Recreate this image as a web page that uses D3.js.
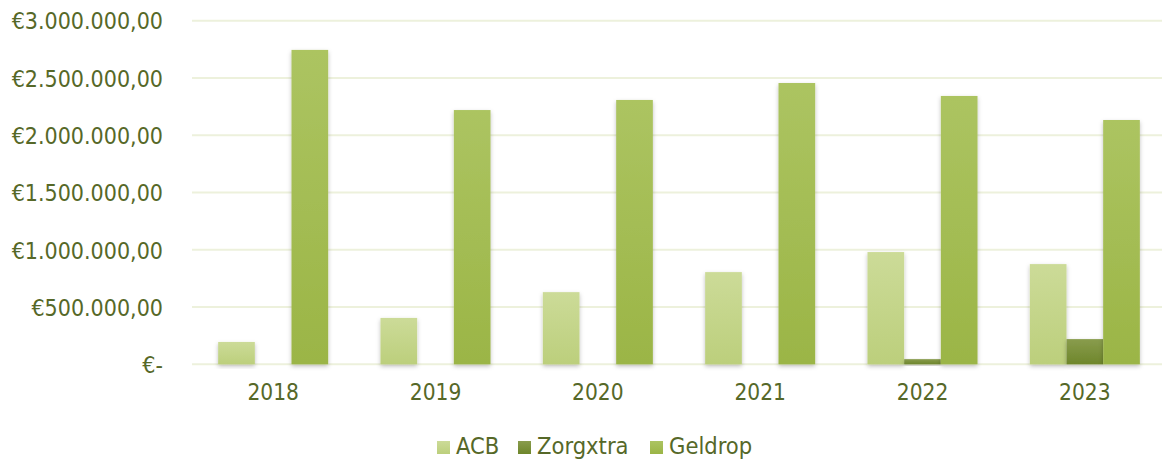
<!DOCTYPE html>
<html>
<head>
<meta charset="utf-8">
<script src="https://cdn.jsdelivr.net/npm/d3@7/dist/d3.min.js"></script>
<style>
  html, body { margin: 0; padding: 0; background: #fff; }
  svg { display: block; }
  text { font-family: "DejaVu Sans Condensed", "DejaVu Sans", sans-serif; fill: #566828; }
</style>
</head>
<body>
<svg id="chart" width="1162" height="461"></svg>
<script>
const years = ["2018", "2019", "2020", "2021", "2022", "2023"];
const seriesNames = ["ACB", "Zorgxtra", "Geldrop"];
const acb = [195000, 405000, 630000, 805000, 980000, 875000];
const zorgxtra = [0, 0, 0, 0, 45000, 220000];
const geldrop = [2745000, 2220000, 2308000, 2456000, 2343000, 2133000];
const yTicks = [0, 500000, 1000000, 1500000, 2000000, 2500000, 3000000];
const yTickLabels = ["€-", "€500.000,00", "€1.000.000,00", "€1.500.000,00", "€2.000.000,00", "€2.500.000,00", "€3.000.000,00"];

const seriesValues = [acb, zorgxtra, geldrop];
const colors = [
  ["#ccdb98", "#bccf7c"],
  ["#899c4d", "#6e862b"],
  ["#acc461", "#9bb546"]
];

const svg = d3.select("#chart");
const plotLeft = 192, plotRight = 1166, plotTop = 20.7, plotBottom = 364.3;
const textColor = "#566828";

const x0 = d3.scaleBand().domain(years).range([plotLeft, plotRight]).paddingInner(0.3222).paddingOuter(0.1611);
const x1 = d3.scaleBand().domain(seriesNames).range([0, x0.bandwidth()]).padding(0);
const y = d3.scaleLinear().domain([0, 3000000]).range([plotBottom, plotTop]);

const defs = svg.append("defs");
colors.forEach((c, i) => {
  const g = defs.append("linearGradient").attr("id", "grad" + i)
    .attr("x1", 0).attr("y1", 0).attr("x2", 0).attr("y2", 1);
  g.append("stop").attr("offset", "0%").attr("stop-color", c[0]);
  g.append("stop").attr("offset", "100%").attr("stop-color", c[1]);
});
const f = defs.append("filter").attr("id", "shadow").attr("x", "-30%").attr("y", "-10%").attr("width", "160%").attr("height", "130%");
f.append("feDropShadow").attr("dx", 0).attr("dy", 2).attr("stdDeviation", 2).attr("flood-color", "#000").attr("flood-opacity", 0.25);

// gridlines
svg.append("g").selectAll("line").data(yTicks).join("line")
  .attr("x1", plotLeft).attr("x2", 1162)
  .attr("y1", d => y(d)).attr("y2", d => y(d))
  .attr("stroke", "#edf1dc").attr("stroke-width", 2);

// y axis labels
const yAxis = d3.axisLeft(y).tickValues(yTicks).tickSize(0).tickPadding(0)
  .tickFormat((d, i) => yTickLabels[i]);
const yg = svg.append("g").attr("transform", "translate(163,0)").call(yAxis);
yg.select(".domain").remove();
yg.selectAll("text").attr("font-size", 23).attr("dy", "0.36em").style("fill", textColor);

// x axis labels
const xAxis = d3.axisBottom(x0).tickSize(0).tickPadding(0);
const xg = svg.append("g").attr("transform", `translate(0,${plotBottom + 20})`).call(xAxis);
xg.select(".domain").remove();
xg.selectAll("text").attr("font-size", 22.5).attr("dy", "0.71em").style("fill", textColor);
svg.selectAll("g").attr("font-family", null).attr("font-size", null);

// bars
const groups = svg.append("g").selectAll("g").data(years).join("g")
  .attr("transform", d => `translate(${x0(d)},0)`);
groups.selectAll("rect")
  .data((yr, yi) => seriesNames.map((s, si) => ({ s, si, v: seriesValues[si][yi] })))
  .join("rect")
  .filter(d => d.v > 0)
  .attr("x", d => x1(d.s))
  .attr("width", x1.bandwidth())
  .attr("y", d => y(d.v))
  .attr("height", d => y(0) - y(d.v))
  .attr("fill", d => `url(#grad${d.si})`)
  .attr("filter", "url(#shadow)");

// legend
const legendItems = [
  { name: "ACB", x: 437 },
  { name: "Zorgxtra", x: 518 },
  { name: "Geldrop", x: 650 }
];
const lg = svg.append("g");
legendItems.forEach((it, i) => {
  lg.append("rect").attr("x", it.x).attr("y", 441).attr("width", 13).attr("height", 13)
    .attr("fill", `url(#grad${i})`);
  lg.append("text").attr("x", it.x + 19).attr("y", 454).attr("font-size", 23.5)
    .style("fill", textColor).text(it.name);
});
</script>
</body>
</html>
